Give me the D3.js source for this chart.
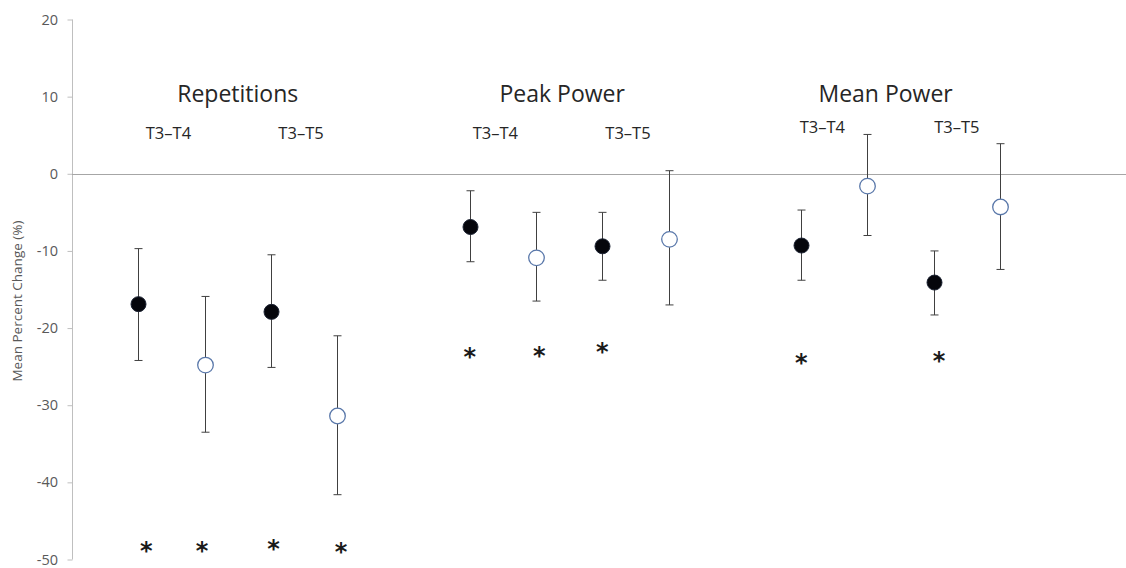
<!DOCTYPE html>
<html>
<head>
<meta charset="utf-8">
<script src="https://cdn.jsdelivr.net/npm/d3@7"></script>
<style>
  html, body { margin: 0; padding: 0; background: #fff; }
  svg { display: block; }
</style>
</head>
<body>
<svg id="chart" width="1126" height="568"></svg>
<script>
// Outcome measures and the two test comparisons within each
const measures = ["Repetitions", "Peak Power", "Mean Power"];
const comparisons = ["T3\u2013T4", "T3\u2013T5"];

// Filled-marker condition: mean % change with lower / upper error limits
// order: [Rep T3–T4, Rep T3–T5, Peak T3–T4, Peak T3–T5, Mean T3–T4, Mean T3–T5]
const filledMean  = [-16.9, -17.9, -6.9, -9.4, -9.3, -14.1];
const filledLower = [-24.2, -25.1, -11.4, -13.8, -13.8, -18.3];
const filledUpper = [-9.7, -10.5, -2.2, -5.0, -4.7, -10.0];

// Open-marker condition
const openMean  = [-24.8, -31.4, -10.9, -8.5, -1.6, -4.3];
const openLower = [-33.5, -41.6, -16.5, -17.0, -8.0, -12.4];
const openUpper = [-15.9, -21.0, -5.0, 0.4, 5.1, 3.9];

// Significance asterisks: slot along the category axis and value position
const starSlot  = [0.12, 0.96, 2.04, 3.06, 5.0, 6.05, 7.0, 10.0, 12.08];
const starValue = [-48.2, -48.2, -48.0, -48.4, -23.1, -22.9, -22.4, -23.8, -23.6];

// Vertical axis ticks
const yTicks = [20, 10, 0, -10, -20, -30, -40, -50];
const yLabel = "Mean Percent Change (%)";

// ---- layout ----
const svg = d3.select("#chart");
const axisX = 72;
const x = d3.scaleLinear().domain([-1, 14.9]).range([axisX, 1126]);
const y = d3.scaleLinear().domain([-50, 20]).range([559.5, 19.5]);

// slot index of each mark: 5 slots per measure, 2 per comparison
const slotOf = (m, c, s) => m * 5 + c * 2 + s;

// build mark records
const marks = [];
measures.forEach((m, mi) => {
  comparisons.forEach((c, ci) => {
    const k = mi * 2 + ci;
    marks.push({ slot: slotOf(mi, ci, 0), mean: filledMean[k], lo: filledLower[k], hi: filledUpper[k], filled: true });
    marks.push({ slot: slotOf(mi, ci, 1), mean: openMean[k], lo: openLower[k], hi: openUpper[k], filled: false });
  });
});

// ---- y axis ----
const yAxis = d3.axisLeft(y).tickValues(yTicks).tickSize(5).tickPadding(9).tickFormat(d => String(d));
const gy = svg.append("g").attr("transform", `translate(${axisX},0)`).call(yAxis);
gy.select(".domain").attr("stroke", "#bfbfbf").attr("d", `M0.5,${y(20)}V${y(-50)}`);
gy.selectAll(".tick line").attr("stroke", "#bfbfbf").attr("x1", 0.5).attr("x2", -4.5);
gy.selectAll(".tick text")
  .attr("fill", "#595959")
  .style("font-family", "'Open Sans', sans-serif")
  .style("font-size", "14.5px");

// zero reference line
svg.append("line")
  .attr("x1", axisX).attr("x2", 1126)
  .attr("y1", Math.round(y(0)) + 0.5).attr("y2", Math.round(y(0)) + 0.5)
  .attr("stroke", "#a6a6a6").attr("stroke-width", 1);

// axis title
svg.append("text")
  .attr("transform", `translate(22,${y(-16.5)}) rotate(-90)`)
  .attr("text-anchor", "middle")
  .attr("fill", "#595959")
  .style("font-family", "'Open Sans', sans-serif")
  .style("font-size", "13.5px")
  .text(yLabel);

// ---- error bars ----
const capHalf = 4;
const bars = svg.append("g").attr("stroke", "#404040").attr("stroke-width", 1);
marks.forEach(d => {
  const cx = Math.round(x(d.slot)) + 0.5;
  bars.append("line").attr("x1", cx).attr("x2", cx).attr("y1", y(d.hi)).attr("y2", y(d.lo));
  bars.append("line").attr("x1", cx - capHalf).attr("x2", cx + capHalf).attr("y1", y(d.hi)).attr("y2", y(d.hi));
  bars.append("line").attr("x1", cx - capHalf).attr("x2", cx + capHalf).attr("y1", y(d.lo)).attr("y2", y(d.lo));
});

// ---- markers ----
svg.append("g").selectAll("circle")
  .data(marks)
  .join("circle")
  .attr("cx", d => Math.round(x(d.slot)) + 0.5)
  .attr("cy", d => y(d.mean))
  .attr("r", d => d.filled ? 7.5 : 7.8)
  .attr("fill", d => d.filled ? "#05060c" : "#ffffff")
  .attr("stroke", d => d.filled ? "#1c2333" : "#5a78aa")
  .attr("stroke-width", d => d.filled ? 1 : 1.3);

// ---- significance asterisks ----
const starSize = 24;
svg.append("g").selectAll("text")
  .data(starSlot.map((s, i) => ({ s, v: starValue[i] })))
  .join("text")
  .attr("x", d => x(d.s))
  .attr("y", d => y(d.v) + starSize * 0.55)
  .attr("text-anchor", "middle")
  .attr("fill", "#1a1a1a")
  .style("font-family", "'DejaVu Sans', sans-serif")
  .style("font-weight", "bold")
  .style("font-size", starSize + "px")
  .text("*");

// ---- measure titles and comparison labels ----
const titleFont = "'Open Sans', sans-serif";
// horizontal nudges of the text block relative to the marks beneath it
const titleShift = [0, -7, -15];
const subShift = [[-3, -3], [-7.5, -7.5], [-12, -10]];
const subBaseline = [138.5, 138.5, 133];
measures.forEach((m, mi) => {
  const center = (x(slotOf(mi, 0, 0)) + x(slotOf(mi, 1, 1))) / 2 + titleShift[mi];
  svg.append("text")
    .attr("x", center).attr("y", 102)
    .attr("text-anchor", "middle")
    .attr("fill", "#262626")
    .style("font-family", titleFont)
    .style("font-size", "23px")
    .text(m);
  comparisons.forEach((c, ci) => {
    const cx = (x(slotOf(mi, ci, 0)) + x(slotOf(mi, ci, 1))) / 2 + subShift[mi][ci];
    svg.append("text")
      .attr("x", cx).attr("y", subBaseline[mi])
      .attr("text-anchor", "middle")
      .attr("fill", "#262626")
      .style("font-family", titleFont)
      .style("font-size", "16.5px")
      .text(c);
  });
});
</script>
</body>
</html>
